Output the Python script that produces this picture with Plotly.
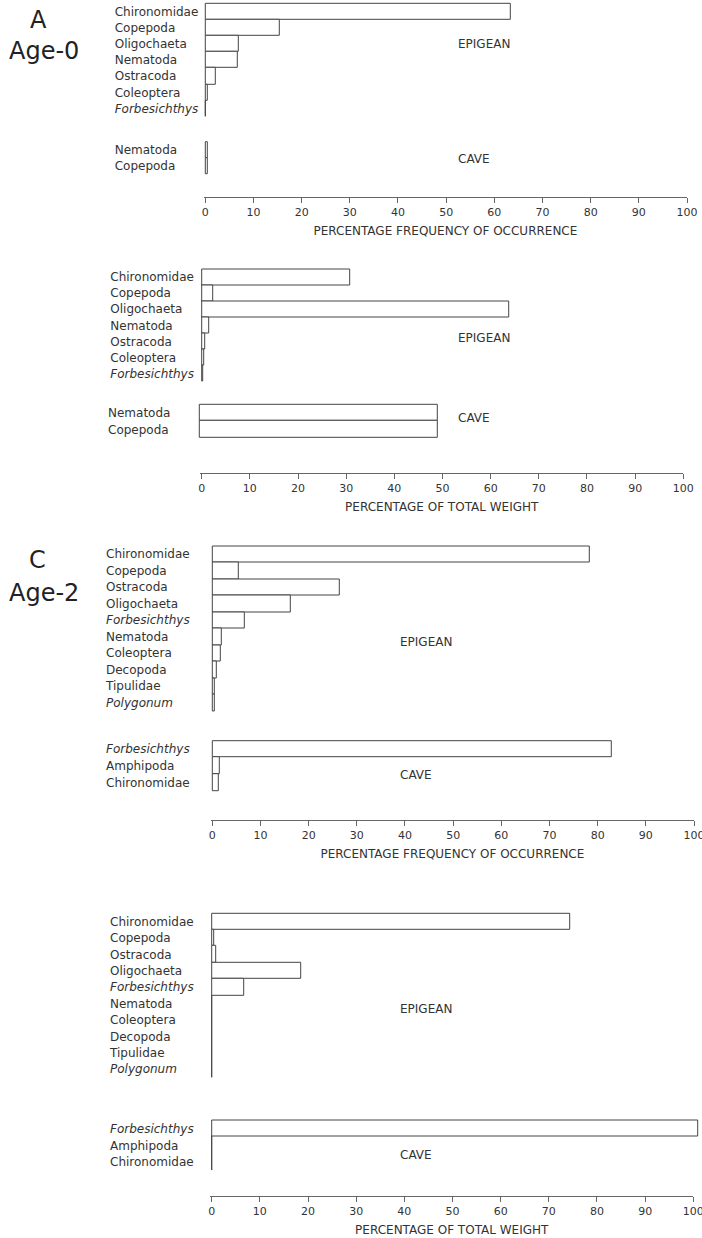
import plotly.graph_objects as go

# ---------------- data ----------------
a_epi_names = ["Chironomidae", "Copepoda", "Oligochaeta", "Nematoda", "Ostracoda", "Coleoptera", "Forbesichthys"]
a_cave_names = ["Nematoda", "Copepoda"]
a_freq_epi = [63.4, 15.4, 7.0, 6.7, 2.1, 0.6, 0.2]
a_freq_cave = [0.6, 0.6]
a_wt_epi = [30.9, 2.3, 63.8, 1.6, 0.75, 0.6, 0.3]
a_wt_cave = [49.6, 49.6]

c_epi_names = ["Chironomidae", "Copepoda", "Ostracoda", "Oligochaeta", "Forbesichthys",
               "Nematoda", "Coleoptera", "Decopoda", "Tipulidae", "Polygonum"]
c_cave_names = ["Forbesichthys", "Amphipoda", "Chironomidae"]
c_freq_epi = [78.4, 5.6, 26.5, 16.3, 6.8, 2.0, 1.7, 0.9, 0.45, 0.45]
c_freq_cave = [82.9, 1.5, 1.3]
c_wt_epi = [74.5, 0.5, 0.9, 18.5, 6.8, 0.15, 0.1, 0.1, 0.1, 0.1]
c_wt_cave = [101.0, 0.1, 0.1]

italic_names = {"Forbesichthys", "Polygonum"}
tick_values = [0, 10, 20, 30, 40, 50, 60, 70, 80, 90, 100]
title_freq = "PERCENTAGE FREQUENCY OF OCCURRENCE"
title_wt = "PERCENTAGE OF TOTAL WEIGHT"

# ---------------- layout geometry (pixels) ----------------
W, H = 702, 1238
FONT = "DejaVu Sans"
TXT = "#333333"
EDGE = "#444444"
PADPX = 1.5  # keeps the outer bar outlines from being clipped


def fx(px):
    return px / W


def fy(py):
    return 1 - py / H


panels = [
    dict(epi_n=a_epi_names, epi_v=a_freq_epi, cave_n=a_cave_names, cave_v=a_freq_cave,
         x0=205.3, x100=687.0, cx0=205.3, cmax=100, axis_y=196.5, lab_x=[116.7, 116.7],
         epi_y=(3.3, 116.7), cave_y=(141.7, 174.3), title=title_freq,
         epi_lab=(456, 44.3), cave_lab=(456, 158.7)),
    dict(epi_n=a_epi_names, epi_v=a_wt_epi, cave_n=a_cave_names, cave_v=a_wt_cave,
         x0=201.7, x100=683.3, cx0=199.3, cmax=100, axis_y=472.7, lab_x=[112.3, 110.0],
         epi_y=(269.0, 381.7), cave_y=(404.3, 437.7), title=title_wt,
         epi_lab=(456, 338.3), cave_lab=(456, 417.7)),
    dict(epi_n=c_epi_names, epi_v=c_freq_epi, cave_n=c_cave_names, cave_v=c_freq_cave,
         x0=212.3, x100=694.0, cx0=212.3, cmax=100, axis_y=820.0, lab_x=[108.0, 108.0],
         epi_y=(546.0, 711.0), cave_y=(740.7, 790.7), title=title_freq,
         epi_lab=(397.7, 641.7), cave_lab=(397.7, 775.0)),
    dict(epi_n=c_epi_names, epi_v=c_wt_epi, cave_n=c_cave_names, cave_v=c_wt_cave,
         x0=211.7, x100=693.3, cx0=211.7, cmax=101.5, axis_y=1195.7, lab_x=[112.0, 112.0],
         epi_y=(913.3, 1077.3), cave_y=(1120.0, 1170.7), title=title_wt,
         epi_lab=(397.7, 1008.7), cave_lab=(397.7, 1155.0)),
]

fig = go.Figure()
layout = {}
annotations = []

for i, p in enumerate(panels):
    ke, kc = 2 * i + 1, 2 * i + 2
    scale = (p["x100"] - p["x0"]) / 100.0
    xpad = PADPX / scale
    groups = [
        (ke, p["epi_n"], p["epi_v"], p["epi_y"], p["x0"], 100, p["lab_x"][0]),
        (kc, p["cave_n"], p["cave_v"], p["cave_y"], p["cx0"], p["cmax"], p["lab_x"][1]),
    ]
    for k, names, vals, (ytop, ybot), x0, xmax, labx in groups:
        fig.add_trace(go.Bar(
            x=vals, y=names, orientation="h",
            xaxis=f"x{k}", yaxis=f"y{k}",
            marker=dict(color="white", line=dict(color=EDGE, width=1)),
            showlegend=False, hoverinfo="x+y", cliponaxis=False,
        ))
        n = len(names)
        rowpx = (ybot - ytop) / n
        ypad = PADPX / rowpx
        layout[f"yaxis{k}"] = dict(
            type="category", categoryorder="array", categoryarray=names,
            range=[n - 0.5 + ypad, -0.5 - ypad],
            domain=[fy(ybot + PADPX), fy(ytop - PADPX)],
            anchor="free", position=fx(labx - 3), side="right",
            showline=False, ticks="", showgrid=False, zeroline=False,
            automargin=False, ticklabeloverflow="allow",
            tickvals=names,
            ticktext=[f"<i>{nm}</i>" if nm in italic_names else nm for nm in names],
            tickfont=dict(family=FONT, size=12, color=TXT),
        )
        xe = x0 + scale * xmax
        if k == ke:
            layout[f"xaxis{k}"] = dict(
                domain=[fx(x0 - PADPX), fx(xe)], range=[-xpad, xmax],
                anchor="free", position=fy(p["axis_y"]), automargin=False,
                ticklabeloverflow="allow",
                showline=True, linecolor="#666666", linewidth=1,
                ticks="outside", ticklen=5, tickcolor="#666666",
                tickvals=tick_values, showgrid=False, zeroline=False,
                tickfont=dict(family=FONT, size=11, color=TXT),
                title=dict(text=p["title"], standoff=8,
                           font=dict(family=FONT, size=12, color=TXT)),
            )
        else:
            layout[f"xaxis{k}"] = dict(
                domain=[fx(x0 - PADPX), fx(xe)], range=[-xpad, xmax],
                anchor="free", position=0, visible=False, automargin=False,
            )
    for txt, (lx, ly) in (("EPIGEAN", p["epi_lab"]), ("CAVE", p["cave_lab"])):
        annotations.append(dict(text=txt, x=fx(lx), y=fy(ly), xref="paper", yref="paper",
                                xanchor="left", yanchor="middle", showarrow=False,
                                font=dict(family=FONT, size=12, color=TXT)))

for txt, cx, cy in (("A", 38, 20.5), ("Age-0", 44, 51.5), ("C", 37.5, 560), ("Age-2", 44, 593)):
    annotations.append(dict(text=txt, x=fx(cx), y=fy(cy), xref="paper", yref="paper",
                            xanchor="center", yanchor="middle", showarrow=False,
                            font=dict(family=FONT, size=24, color="#222222")))

fig.update_layout(
    width=W, height=H, autosize=False,
    margin=dict(l=0, r=0, t=0, b=0, pad=0, autoexpand=False),
    paper_bgcolor="white", plot_bgcolor="white",
    bargap=0, showlegend=False, annotations=annotations,
    font=dict(family=FONT, size=12, color=TXT),
    **layout,
)

fig.write_html(
    "out.html",
    config={"displayModeBar": False, "responsive": False},
    post_script="document.body.style.margin='0px';document.documentElement.style.overflow='hidden';",
)
